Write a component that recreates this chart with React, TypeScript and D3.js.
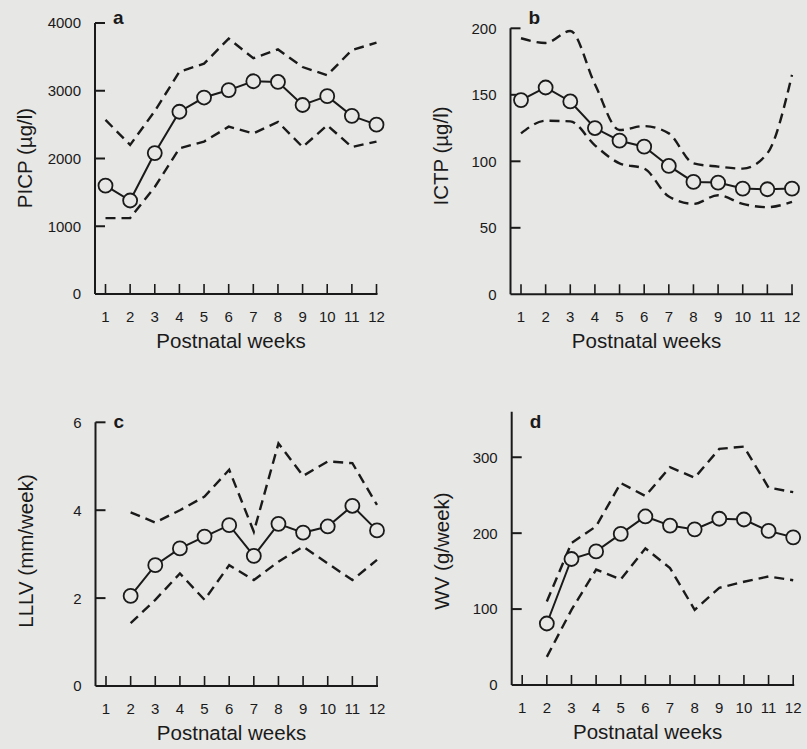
import React from "react";
import * as d3 from "d3";

const weeks = [1, 2, 3, 4, 5, 6, 7, 8, 9, 10, 11, 12];
const weeksFrom2 = [2, 3, 4, 5, 6, 7, 8, 9, 10, 11, 12];

// Panel a: PICP (µg/l)
const picpMean = [1600, 1380, 2080, 2690, 2900, 3010, 3140, 3130, 2790, 2920, 2630, 2500];
const picpUpper = [2570, 2200, 2700, 3280, 3400, 3770, 3480, 3610, 3350, 3230, 3600, 3710];
const picpLower = [1120, 1120, 1580, 2150, 2250, 2470, 2370, 2540, 2170, 2490, 2170, 2250];
const picpTicks = [0, 1000, 2000, 3000, 4000];

// Panel b: ICTP (µg/l)
const ictpMean = [146, 155.5, 145, 125, 115.5, 111, 96.5, 84.5, 84, 79.5, 79, 79.5];
const ictpUpper = [192.5, 189, 198, 158, 123.5, 126.5, 121, 98.5, 96, 94.5, 106, 165];
const ictpLower = [121, 130.5, 130, 112, 98.5, 94.5, 73.5, 68, 74.5, 68, 65.5, 69.5];
const ictpTicks = [0, 50, 100, 150, 200];

// Panel c: LLLV (mm/week), weeks 2-12
const lllvMean = [2.05, 2.75, 3.13, 3.4, 3.66, 2.96, 3.69, 3.49, 3.63, 4.1, 3.54];
const lllvUpper = [3.95, 3.72, 4.0, 4.31, 4.92, 3.51, 5.52, 4.78, 5.11, 5.07, 4.12];
const lllvLower = [1.43, 1.96, 2.56, 1.96, 2.75, 2.41, 2.83, 3.17, 2.79, 2.41, 2.87];
const lllvTicks = [0, 2, 4, 6];

// Panel d: WV (g/week), weeks 2-12
const wvMean = [81, 166, 176, 199, 222, 210, 205, 219, 218, 203, 194.5];
const wvUpper = [110, 187, 209, 266, 249, 287, 273, 311, 314, 260, 254];
const wvLower = [37, 99, 152, 139, 180, 154, 99, 128, 136, 143, 138];
const wvTicks = [0, 100, 200, 300];

const BG = "#e7e7e5";
const INK = "#1a1a1a";
const FONT = "'Liberation Sans', Arial, Helvetica, sans-serif";

type PanelProps = {
  letter: string;
  yLabel: string;
  xs: number[];
  mean: number[];
  upper: number[];
  lower: number[];
  yTicks: number[];
  yMax: number;
  x0: number;
  y0: number;
  yTop: number;
  yLabelCenter: number;
  letterBaseline: number;
  smooth?: boolean;
};

function Panel(p: PanelProps) {
  const x = d3.scaleLinear().domain([1, 12]).range([p.x0 + 10.5, p.x0 + 281.5]);
  const y = d3.scaleLinear().domain([0, p.yMax]).range([p.y0, p.yTop]);
  const curve = p.smooth ? d3.curveMonotoneX : d3.curveLinear;
  const line = d3
    .line<[number, number]>()
    .x((d) => x(d[0]))
    .y((d) => y(d[1]))
    .curve(curve);
  const meanLine = d3
    .line<[number, number]>()
    .x((d) => x(d[0]))
    .y((d) => y(d[1]));
  const pts = (vals: number[]) => p.xs.map((w, i) => [w, vals[i]] as [number, number]);
  const xEnd = x(12);
  return (
    <g>
      {/* dashed bounds */}
      <path d={line(pts(p.upper)) || ""} fill="none" stroke={INK} strokeWidth={2.4} strokeDasharray="10,6" />
      <path d={line(pts(p.lower)) || ""} fill="none" stroke={INK} strokeWidth={2.4} strokeDasharray="10,6" />
      {/* axes */}
      <line x1={p.x0} x2={p.x0} y1={p.yTop} y2={p.y0} stroke={INK} strokeWidth={2} />
      <line x1={p.x0} x2={xEnd + 1} y1={p.y0} y2={p.y0} stroke={INK} strokeWidth={2} />
      {p.yTicks.map((t) => (
        <g key={"y" + t}>
          {t > 0 && <line x1={p.x0} x2={p.x0 + 10} y1={y(t)} y2={y(t)} stroke={INK} strokeWidth={2} />}
          <text
            x={p.x0 - 14}
            y={y(t)}
            dy="0.36em"
            textAnchor="end"
            fontSize={15}
            fontFamily={FONT}
            fill={INK}
          >
            {t}
          </text>
        </g>
      ))}
      {weeks.map((w) => (
        <g key={"x" + w}>
          <line x1={x(w)} x2={x(w)} y1={p.y0} y2={p.y0 - 10} stroke={INK} strokeWidth={1.6} />
          <text x={x(w)} y={p.y0 + 28} textAnchor="middle" fontSize={15} fontFamily={FONT} fill={INK}>
            {w}
          </text>
        </g>
      ))}
      <text
        x={p.x0 + 136}
        y={p.y0 + 54}
        textAnchor="middle"
        fontSize={20.5}
        fontFamily={FONT}
        fill={INK}
      >
        Postnatal weeks
      </text>
      <text
        transform={`translate(${p.x0 - 63},${p.yLabelCenter}) rotate(-90)`}
        textAnchor="middle"
        fontSize={20.5}
        fontFamily={FONT}
        fill={INK}
      >
        {p.yLabel}
      </text>
      <text x={p.x0 + 18} y={p.letterBaseline} fontSize={19} fontWeight="bold" fontFamily={FONT} fill={INK}>
        {p.letter}
      </text>
      {/* mean line with circles */}
      <path d={meanLine(pts(p.mean)) || ""} fill="none" stroke={INK} strokeWidth={2} />
      {p.xs.map((w, i) => (
        <circle key={"c" + w} cx={x(w)} cy={y(p.mean[i])} r={7} fill={BG} stroke={INK} strokeWidth={1.8} />
      ))}
    </g>
  );
}

export default function App() {
  return (
    <div style={{ position: "absolute", left: 0, top: 0, width: 807, height: 749 }}>
      <svg width={807} height={749} style={{ display: "block" }}>
        <rect x={0} y={0} width={807} height={749} fill={BG} />
        <Panel
          letter="a"
          yLabel="PICP (µg/l)"
          xs={weeks}
          mean={picpMean}
          upper={picpUpper}
          lower={picpLower}
          yTicks={picpTicks}
          yMax={4000}
          x0={95}
          y0={294}
          yTop={23}
          yLabelCenter={158}
          letterBaseline={24}
        />
        <Panel
          letter="b"
          yLabel="ICTP (µg/l)"
          xs={weeks}
          mean={ictpMean}
          upper={ictpUpper}
          lower={ictpLower}
          yTicks={ictpTicks}
          yMax={200}
          x0={510.5}
          y0={294.3}
          yTop={28.3}
          yLabelCenter={156}
          letterBaseline={24}
          smooth
        />
        <Panel
          letter="c"
          yLabel="LLLV (mm/week)"
          xs={weeksFrom2}
          mean={lllvMean}
          upper={lllvUpper}
          lower={lllvLower}
          yTicks={lllvTicks}
          yMax={6}
          x0={95.5}
          y0={686}
          yTop={422.3}
          yLabelCenter={551}
          letterBaseline={428}
        />
        <Panel
          letter="d"
          yLabel="WV (g/week)"
          xs={weeksFrom2}
          mean={wvMean}
          upper={wvUpper}
          lower={wvLower}
          yTicks={wvTicks}
          yMax={360}
          x0={511.7}
          y0={685}
          yTop={411.7}
          yLabelCenter={551}
          letterBaseline={428}
        />
      </svg>
    </div>
  );
}
